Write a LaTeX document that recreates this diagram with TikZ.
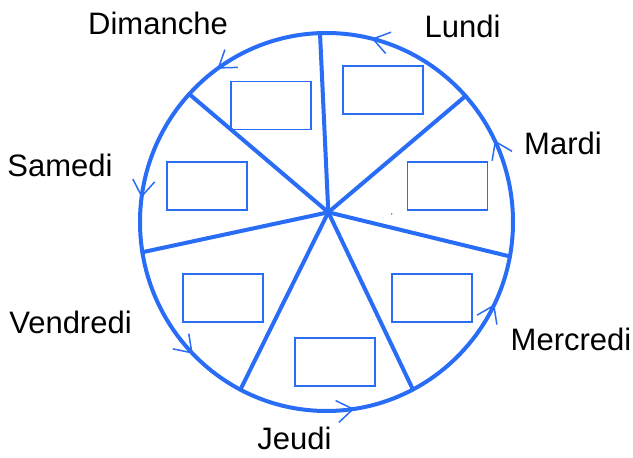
\documentclass[tikz,border=0pt]{standalone}
\usepackage{fontspec}
\setmainfont{Liberation Sans}
\usetikzlibrary{arrows.meta}
\definecolor{wheelblue}{RGB}{41,108,246}
\begin{document}
\begin{tikzpicture}[x=1pt,y=1pt,
  rim/.style={draw=wheelblue,line width=4pt},
  spoke/.style={draw=wheelblue,line width=4pt,line cap=round},
  slot/.style={draw=wheelblue,line width=1.8pt,minimum width=80pt,minimum height=48pt,inner sep=0pt},
  dir/.style={draw=wheelblue,line width=1.5pt,-{Straight Barb[length=16pt,width=22pt]}},
  day/.style={anchor=base,inner sep=0pt,font=\fontsize{31}{36}\selectfont}]
\useasboundingbox (0,0) rectangle (633,458);
\coordinate (c) at (326.5,236);
\coordinate (hub) at (328.3,245.7);
\draw[rim] (c) ellipse [x radius=186.5pt, y radius=189pt];
% rim points
\foreach \n/\a in {top/92, ur/41.8, ul/137.4, r/-10.5, l/189.2, bl/242.5, br/297.6}
  \coordinate (\n) at ([shift={(\a:186.5pt and 189pt)}]c);
\foreach \n in {top,ur,ul,r,l,bl,br}
  \draw[spoke] (hub) -- (\n);
% direction arrows
\foreach \a in {76,125.8,172.6,224.2,278.6,334.2,25.6}
  \draw[dir] ([shift={(\a-6:186.5pt and 189pt)}]c) arc[start angle=\a-6, end angle=\a, x radius=186.5pt, y radius=189pt];
% boxes
\node[slot] (bdim) at (271.3,352.5) {};
\node[slot] (blun) at (383.3,368) {};
\node[slot] (bsam) at (207.3,272.2) {};
\node[slot] (bmar) at (447.5,272.2) {};
\node[slot] (bven) at (223.3,160) {};
\node[slot] (bjeu) at (335.2,96.3) {};
\node[slot] (bmer) at (431.7,160) {};
\fill[wheelblue] (391.7,244) circle (0.8pt);
% labels
\node[day] (dim) at (158,423) {Dimanche};
\node[day] (lun) at (462.5,420.7) {Lundi};
\node[day] (mar) at (563,303) {Mardi};
\node[day] (sam) at (60,281.3) {Samedi};
\node[day] (ven) at (70.5,124) {Vendredi};
\node[day] (mer) at (571,107) {Mercredi};
\node[day] (jeu) at (294.5,8) {Jeudi};
\end{tikzpicture}
\end{document}
